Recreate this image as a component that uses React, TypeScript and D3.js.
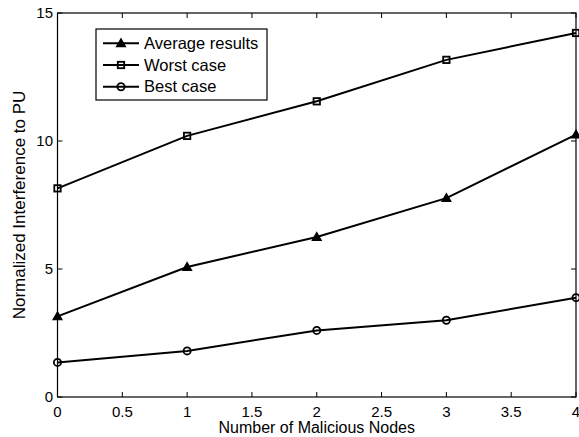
import React from "react";
import * as d3 from "d3";

const xValues = [0, 1, 2, 3, 4];
const averageResults = [3.15, 5.08, 6.25, 7.77, 10.25];
const worstCase = [8.15, 10.2, 11.55, 13.17, 14.22];
const bestCase = [1.35, 1.8, 2.6, 3.0, 3.88];
const xTicks = [0, 0.5, 1, 1.5, 2, 2.5, 3, 3.5, 4];
const yTicks = [0, 5, 10, 15];
const seriesNames = ["Average results", "Worst case", "Best case"];

const W = 579;
const H = 437;
const M = { left: 57.5, right: 3, top: 13, bottom: 40 };

type MarkerKind = "triangle" | "square" | "circle";

function Marker({ kind, x, y }: { kind: MarkerKind; x: number; y: number }) {
  if (kind === "triangle") {
    const s = 4.5;
    return (
      <path
        d={`M${x},${y - s}L${x + s},${y + s * 0.75}L${x - s},${y + s * 0.75}Z`}
        fill="black"
        stroke="black"
        strokeWidth={1.2}
      />
    );
  }
  if (kind === "square") {
    return <rect x={x - 3.2} y={y - 3.2} width={6.4} height={6.4} fill="none" stroke="black" strokeWidth={1.8} />;
  }
  return <circle cx={x} cy={y} r={3.6} fill="none" stroke="black" strokeWidth={1.8} />;
}

export default function App() {
  const x = d3.scaleLinear().domain([0, 4]).range([M.left, W - M.right]);
  const y = d3.scaleLinear().domain([0, 15]).range([H - M.bottom, M.top]);
  const line = d3
    .line<number>()
    .x((_, i) => x(xValues[i]))
    .y((d) => y(d));

  const series: { name: string; values: number[]; kind: MarkerKind }[] = [
    { name: seriesNames[0], values: averageResults, kind: "triangle" },
    { name: seriesNames[1], values: worstCase, kind: "square" },
    { name: seriesNames[2], values: bestCase, kind: "circle" },
  ];

  const x0 = x(0);
  const x1 = x(4);
  const y0 = y(0);
  const y1 = y(15);
  const tick = 5;
  const font = "'Liberation Sans', Arial, Helvetica, sans-serif";

  const legend = { x: 96, y: 29, w: 171, h: 71 };

  return (
    <svg
      width={W}
      height={H}
      style={{ position: "absolute", left: 0, top: 0, background: "white" }}
      fontFamily={font}
    >
      <rect x={0} y={0} width={W} height={H} fill="white" />
      {/* ticks on all four sides, pointing inward */}
      {xTicks.map((t) => (
        <g key={"xt" + t}>
          <line x1={x(t)} x2={x(t)} y1={y0} y2={y0 - tick} stroke="black" strokeWidth={1} />
          <line x1={x(t)} x2={x(t)} y1={y1} y2={y1 + tick} stroke="black" strokeWidth={1} />
          <text x={x(t)} y={y0 + 20} textAnchor="middle" fontSize={15}>
            {t}
          </text>
        </g>
      ))}
      {yTicks.map((t) => (
        <g key={"yt" + t}>
          <line x1={x0} x2={x0 + tick} y1={y(t)} y2={y(t)} stroke="black" strokeWidth={1} />
          <line x1={x1} x2={x1 - tick} y1={y(t)} y2={y(t)} stroke="black" strokeWidth={1} />
          <text x={x0 - 4.5} y={y(t) + 5} textAnchor="end" fontSize={15}>
            {t}
          </text>
        </g>
      ))}
      {series.map((s) => (
        <g key={s.name}>
          <path d={line(s.values) || ""} fill="none" stroke="black" strokeWidth={2} />
          {s.values.map((v, i) => (
            <Marker key={i} kind={s.kind} x={x(xValues[i])} y={y(v)} />
          ))}
        </g>
      ))}
      <rect x={x0} y={y1} width={x1 - x0} height={y0 - y1} fill="none" stroke="black" strokeWidth={1.2} />

      {/* legend */}
      <rect x={legend.x} y={legend.y} width={legend.w} height={legend.h} fill="white" stroke="black" strokeWidth={1.2} />
      {series.map((s, i) => {
        const ly = legend.y + 14.3 + i * 21.7;
        return (
          <g key={"lg" + s.name}>
            <line x1={legend.x + 7} x2={legend.x + 43} y1={ly} y2={ly} stroke="black" strokeWidth={2} />
            <Marker kind={s.kind} x={legend.x + 25} y={ly} />
            <text x={legend.x + 48} y={ly + 5.5} fontSize={16.5}>
              {s.name}
            </text>
          </g>
        );
      })}

      <text x={(x0 + x1) / 2} y={433} textAnchor="middle" fontSize={16}>
        Number of Malicious Nodes
      </text>
      <text transform={`translate(25,205) rotate(-90)`} textAnchor="middle" fontSize={17}>
        Normalized Interference to PU
      </text>
    </svg>
  );
}
